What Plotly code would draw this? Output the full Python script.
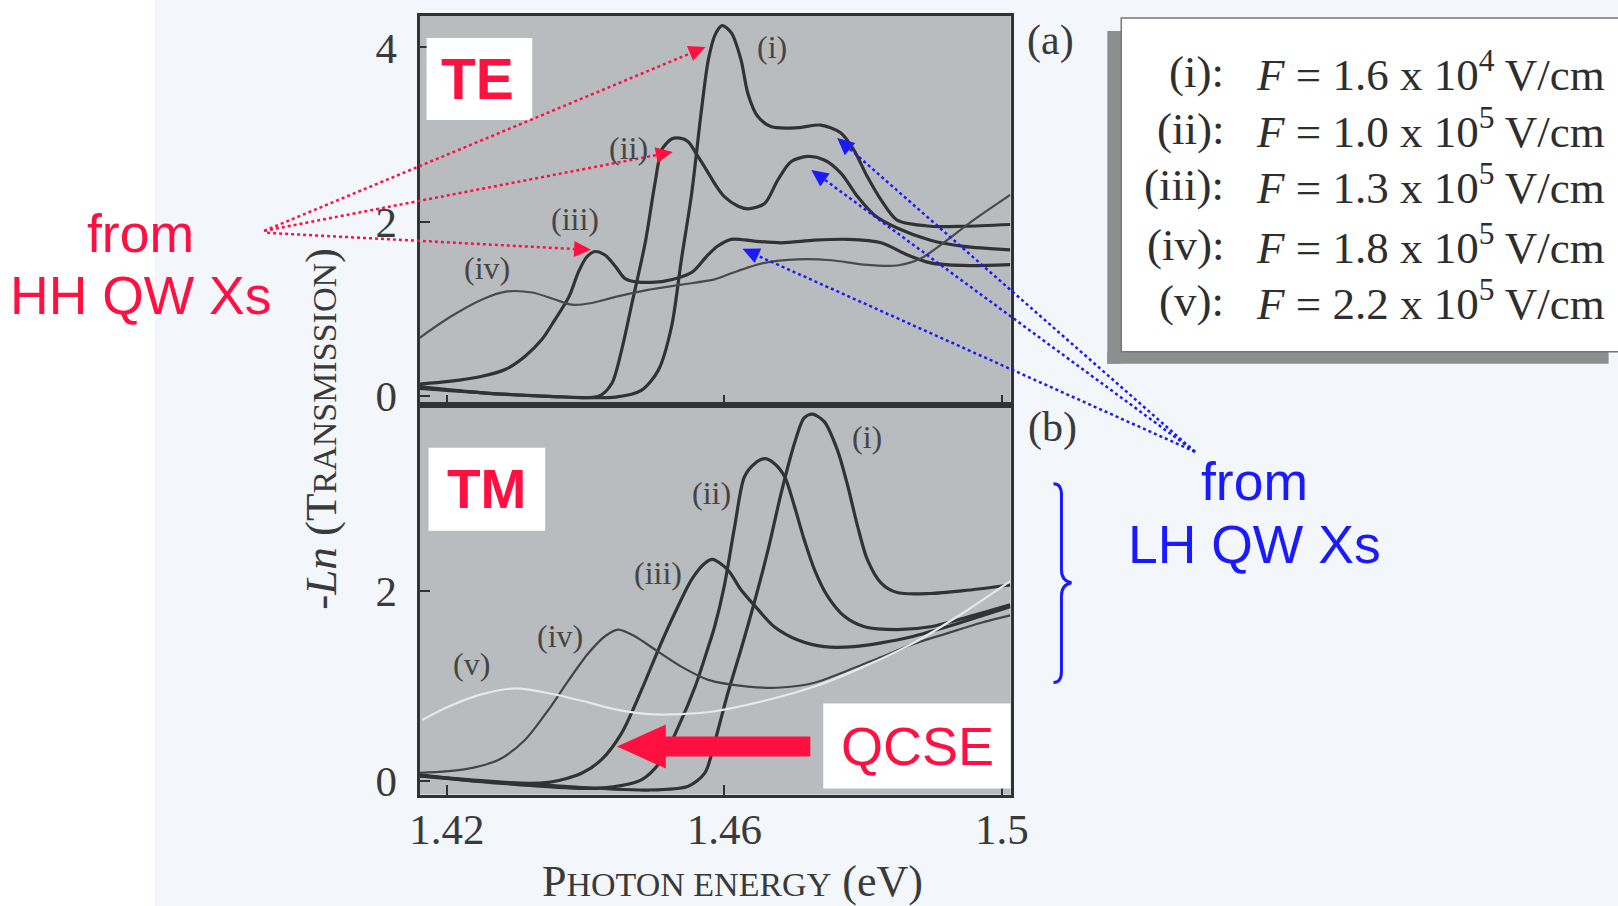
import plotly.graph_objects as go

W, H = 1618, 906
# empirical correction of the page placement observed in the rendered output
OX, SX, SY = 8.0, 0.986, 0.984


def px(x):
    return ((x - OX) / SX) / W


def py(y):
    return 1 - (y / SY) / H


# ---------------- data: TE panel (a) ----------------
te_i_x = [1.4161, 1.4251, 1.4347, 1.4443, 1.4481, 1.4505, 1.4524, 1.4538, 1.4553, 1.4567, 1.4577, 1.4587,
          1.4597, 1.4610, 1.4624, 1.4634, 1.4648, 1.4668, 1.4706, 1.4739, 1.4768, 1.4787, 1.4806, 1.4826,
          1.4849, 1.4897, 1.4945, 1.5012]
te_i_y = [0.11, 0.04, 0.00, -0.01, 0.07, 0.30, 0.80, 1.56, 2.33, 3.28, 3.86, 4.15,
          4.25, 4.17, 3.86, 3.47, 3.21, 3.09, 3.08, 3.11, 3.02, 2.82, 2.52, 2.25,
          2.02, 1.95, 1.95, 1.97]

te_ii_x = [1.4161, 1.4251, 1.4347, 1.4419, 1.4438, 1.4452, 1.4467, 1.4486, 1.4500, 1.4510, 1.4524, 1.4536,
           1.4548, 1.4562, 1.4577, 1.4586, 1.4600, 1.4620, 1.4634, 1.4658, 1.4677, 1.4696, 1.4720, 1.4744,
           1.4768, 1.4792, 1.4816, 1.4849, 1.4897, 1.4945, 1.5012]
te_ii_y = [0.09, 0.04, 0.00, 0.00, 0.15, 0.53, 1.07, 1.76, 2.44, 2.83, 2.95, 2.96,
           2.92, 2.75, 2.56, 2.44, 2.29, 2.18, 2.15, 2.21, 2.48, 2.69, 2.75, 2.71,
           2.56, 2.29, 2.08, 1.93, 1.79, 1.72, 1.68]

te_iii_x = [1.4161, 1.4203, 1.4251, 1.4285, 1.4313, 1.4337, 1.4356, 1.4376, 1.4390, 1.4402, 1.4414, 1.4428,
            1.4443, 1.4457, 1.4476, 1.4514, 1.4553, 1.4574, 1.4590, 1.4610, 1.4643, 1.4682, 1.4730, 1.4778,
            1.4826, 1.4864, 1.4897, 1.4945, 1.5012]
te_iii_y = [0.14, 0.17, 0.23, 0.31, 0.46, 0.65, 0.88, 1.14, 1.43, 1.60, 1.66, 1.62,
            1.49, 1.35, 1.31, 1.32, 1.42, 1.60, 1.72, 1.80, 1.78, 1.76, 1.79, 1.80,
            1.76, 1.62, 1.53, 1.50, 1.51]

te_iv_x = [1.4161, 1.4203, 1.4251, 1.4285, 1.4323, 1.4356, 1.4380, 1.4409, 1.4443, 1.4490, 1.4538, 1.4586,
           1.4610, 1.4658, 1.4706, 1.4754, 1.4801, 1.4849, 1.4883, 1.4921, 1.4959, 1.5012]
te_iv_y = [0.67, 0.90, 1.11, 1.20, 1.19, 1.11, 1.05, 1.07, 1.14, 1.22, 1.28, 1.34,
           1.41, 1.53, 1.57, 1.56, 1.51, 1.50, 1.58, 1.79, 2.02, 2.31]

# ---------------- data: TM panel (b) ----------------
tm_i_x = [1.4161, 1.4347, 1.4490, 1.4548, 1.4572, 1.4586, 1.4605, 1.4624, 1.4643, 1.4663, 1.4682, 1.4701,
          1.4715, 1.4727, 1.4744, 1.4763, 1.4778, 1.4792, 1.4806, 1.4826, 1.4849, 1.4897, 1.4945, 1.5012]
tm_i_y = [0.05, -0.05, -0.10, -0.06, 0.08, 0.40, 0.92, 1.38, 1.87, 2.43, 3.03, 3.55,
          3.82, 3.86, 3.78, 3.48, 3.10, 2.68, 2.33, 2.08, 1.98, 1.97, 2.00, 2.06]

tm_ii_x = [1.4161, 1.4299, 1.4419, 1.4481, 1.4510, 1.4534, 1.4558, 1.4577, 1.4586, 1.4600, 1.4615, 1.4629,
           1.4644, 1.4658, 1.4672, 1.4687, 1.4701, 1.4715, 1.4730, 1.4749, 1.4773, 1.4802, 1.4849, 1.4897,
           1.4945, 1.5012]
tm_ii_y = [0.05, -0.04, -0.08, 0.01, 0.22, 0.57, 0.99, 1.41, 1.62, 2.05, 2.68, 3.20,
           3.34, 3.39, 3.34, 3.20, 2.89, 2.54, 2.22, 1.94, 1.73, 1.62, 1.59, 1.62,
           1.71, 1.85]

tm_iii_x = [1.4161, 1.4251, 1.4347, 1.4395, 1.4423, 1.4452, 1.4481, 1.4505, 1.4529, 1.4553, 1.4572, 1.4583,
            1.4605, 1.4624, 1.4644, 1.4672, 1.4706, 1.4744, 1.4787, 1.4826, 1.4873, 1.4921, 1.4969, 1.5012]
tm_iii_y = [0.06, -0.01, -0.02, 0.08, 0.22, 0.50, 0.96, 1.38, 1.77, 2.12, 2.29, 2.33,
            2.22, 2.01, 1.84, 1.62, 1.48, 1.41, 1.41, 1.45, 1.52, 1.62, 1.73, 1.83]

tm_iv_x = [1.4161, 1.4227, 1.4275, 1.4313, 1.4347, 1.4376, 1.4404, 1.4428, 1.4447, 1.4471, 1.4500, 1.4538,
           1.4577, 1.4634, 1.4682, 1.4730, 1.4778, 1.4826, 1.4873, 1.4921, 1.4969, 1.5012]
tm_iv_y = [0.08, 0.12, 0.22, 0.43, 0.75, 1.06, 1.34, 1.52, 1.59, 1.52, 1.38, 1.20,
           1.06, 0.99, 0.98, 1.03, 1.16, 1.30, 1.44, 1.55, 1.66, 1.74]

tm_v_x = [1.4165, 1.4203, 1.4251, 1.4299, 1.4347, 1.4395, 1.4443, 1.4490, 1.4538, 1.4586, 1.4658, 1.4730,
          1.4801, 1.4873, 1.4945, 1.5012]
tm_v_y = [0.64, 0.78, 0.91, 0.97, 0.92, 0.84, 0.75, 0.70, 0.70, 0.73, 0.84, 0.99,
          1.20, 1.45, 1.77, 2.10]

x_ticks = [1.42, 1.46, 1.5]
x_tick_text = ["1.42", "1.46", "1.5"]
te_y_ticks = [0, 2, 4]
tm_y_ticks = [0, 2]

te_curve_labels = ["(i)", "(ii)", "(iii)", "(iv)"]
te_label_x = [1.4668, 1.4462, 1.4385, 1.4258]
te_label_y = [4.01, 2.85, 2.03, 1.47]
tm_curve_labels = ["(i)", "(ii)", "(iii)", "(iv)", "(v)"]
tm_label_x = [1.4806, 1.4581, 1.4504, 1.4363, 1.4236]
tm_label_y = [3.62, 3.03, 2.19, 1.52, 1.23]

legend_ids = ["(i):", "(ii):", "(iii):", "(iv):", "(v):"]
legend_mant = ["1.6", "1.0", "1.3", "1.8", "2.2"]
legend_exp = ["4", "5", "5", "5", "5"]

# ---------------- figure ----------------
DARK = "#323232"
SERIF = "Liberation Serif"
SANS = "Liberation Sans"
RED = "#ff1040"
BLUE = "#1a1aff"

fig = go.Figure()

te_series = [(te_i_x, te_i_y, 3.2, DARK), (te_ii_x, te_ii_y, 3.2, DARK),
             (te_iii_x, te_iii_y, 3.2, DARK), (te_iv_x, te_iv_y, 2.2, "#4a4a4a")]
for xs, ys, w, c in te_series:
    fig.add_trace(go.Scatter(x=xs, y=ys, mode="lines", xaxis="x", yaxis="y",
                             line=dict(color=c, width=w, shape="spline", smoothing=0.8),
                             hoverinfo="skip", showlegend=False))

tm_series = [(tm_i_x, tm_i_y, 3.2, DARK), (tm_ii_x, tm_ii_y, 3.2, DARK),
             (tm_iii_x, tm_iii_y, 3.2, DARK), (tm_iv_x, tm_iv_y, 2.2, "#444444"),
             (tm_v_x, tm_v_y, 2.2, "#e6e8ea")]
for xs, ys, w, c in tm_series:
    fig.add_trace(go.Scatter(x=xs, y=ys, mode="lines", xaxis="x2", yaxis="y2",
                             line=dict(color=c, width=w, shape="spline", smoothing=0.8),
                             hoverinfo="skip", showlegend=False))

xr = [1.41609, 1.50126]
xdom = [px(419), px(1012)]
axis_common = dict(showline=True, mirror=True, linecolor=DARK, linewidth=3, showgrid=False,
                   zeroline=False, ticks="inside", ticklen=10, tickwidth=2, tickcolor=DARK,
                   tickfont=dict(family=SERIF, size=43, color="#3a3a3a"))

fig.update_layout(
    width=W, height=H, margin=dict(l=0, r=0, t=0, b=0),
    paper_bgcolor="#f3f6fa", plot_bgcolor="#b9bcbf",
    xaxis=dict(domain=xdom, range=xr, anchor="y", tickvals=x_ticks, showticklabels=False, **axis_common),
    yaxis=dict(domain=[py(405), py(16)], range=[-0.0974, 4.361], anchor="x", tickvals=te_y_ticks,
               ticklabelstandoff=11, **axis_common),
    xaxis2=dict(domain=xdom, range=xr, anchor="y2", tickvals=x_ticks, ticktext=x_tick_text,
                ticklabelstandoff=-5, **axis_common),
    yaxis2=dict(domain=[py(795), py(405)], range=[-0.1474, 3.958], anchor="x2", tickvals=tm_y_ticks,
                ticklabelstandoff=11, **axis_common),
)

shapes = []
# white strip on the left
shapes.append(dict(type="rect", xref="paper", yref="paper", x0=-0.05, x1=px(153), y0=-0.05, y1=1.05,
                   fillcolor="white", line=dict(width=0), layer="below"))
# legend box with shadow
shapes.append(dict(type="rect", xref="paper", yref="paper", x0=px(1109), x1=px(1123), y0=py(364), y1=py(31),
                   fillcolor="#8e8e8e", line=dict(width=0)))
shapes.append(dict(type="rect", xref="paper", yref="paper", x0=px(1109), x1=px(1612), y0=py(364), y1=py(352),
                   fillcolor="#8e8e8e", line=dict(width=0)))
shapes.append(dict(type="rect", xref="paper", yref="paper", x0=px(1123), x1=px(1640), y0=py(352), y1=py(18),
                   fillcolor="white", line=dict(width=1.5, color="#777777")))
# white label boxes
for x0, x1, y0, y1 in [(426, 532, 38, 120), (428, 545, 448, 531), (824, 1012, 704, 789)]:
    shapes.append(dict(type="rect", xref="paper", yref="paper", x0=px(x0), x1=px(x1), y0=py(y1), y1=py(y0),
                       fillcolor="white", line=dict(width=0)))
# QCSE arrow
shapes.append(dict(type="rect", xref="paper", yref="paper", x0=px(663), x1=px(811), y0=py(757), y1=py(737),
                   fillcolor=RED, line=dict(width=0)))
shapes.append(dict(type="path", xref="paper", yref="paper",
                   path=f"M {px(617)} {py(747)} L {px(666)} {py(725)} L {px(666)} {py(769)} Z",
                   fillcolor=RED, line=dict(width=0)))


def dotted_arrow(x0, y0, x1, y1, color, head_len=17, half_w=8):
    dx, dy = x1 - x0, y1 - y0
    L = (dx * dx + dy * dy) ** 0.5
    ux, uy = dx / L, dy / L
    bx, by = x1 - ux * head_len, y1 - uy * head_len
    nx, ny = -uy, ux
    shapes.append(dict(type="line", xref="paper", yref="paper", x0=px(x0), y0=py(y0), x1=px(bx), y1=py(by),
                       line=dict(color=color, width=2.5, dash="dot")))
    path = (f"M {px(x1)} {py(y1)} L {px(bx + nx * half_w)} {py(by + ny * half_w)} "
            f"L {px(bx - nx * half_w)} {py(by - ny * half_w)} Z")
    shapes.append(dict(type="path", xref="paper", yref="paper", path=path, fillcolor=color, line=dict(width=0)))


dotted_arrow(263, 231, 706, 47, RED)
dotted_arrow(263, 231, 673, 152, RED)
dotted_arrow(266, 233, 591, 250, RED)
dotted_arrow(1197, 452, 838, 138, BLUE)
dotted_arrow(1197, 452, 812, 170, BLUE)
dotted_arrow(1197, 452, 743, 249, BLUE)

# blue curly brace
pts = [(1055, 484), (1063, 484), (1063, 495), (1063, 570), (1063, 581), (1073, 583), (1063, 585), (1063, 596),
       (1063, 672), (1063, 683), (1055, 683)]
P = [(px(a), py(b)) for a, b in pts]
brace = (f"M {P[0][0]} {P[0][1]} Q {P[1][0]} {P[1][1]} {P[2][0]} {P[2][1]} L {P[3][0]} {P[3][1]} "
         f"Q {P[4][0]} {P[4][1]} {P[5][0]} {P[5][1]} Q {P[6][0]} {P[6][1]} {P[7][0]} {P[7][1]} "
         f"L {P[8][0]} {P[8][1]} Q {P[9][0]} {P[9][1]} {P[10][0]} {P[10][1]}")
shapes.append(dict(type="path", xref="paper", yref="paper", path=brace, line=dict(color=BLUE, width=3)))

fig.update_layout(shapes=shapes)

ann = []


def note(text, x, y, size, color, family, xanchor="center", textangle=0):
    ann.append(dict(text=text, x=px(x), y=py(y), xref="paper", yref="paper", showarrow=False,
                    xanchor=xanchor, yanchor="middle", textangle=textangle,
                    font=dict(family=family, size=size, color=color)))


# curve labels
for t, x, y in zip(te_curve_labels, te_label_x, te_label_y):
    ann.append(dict(text=t, x=x, y=y, xref="x", yref="y", showarrow=False, xanchor="center", yanchor="middle",
                    font=dict(family=SERIF, size=32, color="#454545")))
for t, x, y in zip(tm_curve_labels, tm_label_x, tm_label_y):
    ann.append(dict(text=t, x=x, y=y, xref="x2", yref="y2", showarrow=False, xanchor="center", yanchor="middle",
                    font=dict(family=SERIF, size=32, color="#454545")))
# panel labels
note("(a)", 1052, 41, 42, "#3a3a3a", SERIF)
note("(b)", 1054, 428, 42, "#3a3a3a", SERIF)
# axis titles
note("-<i>Ln</i> (T<span style='font-size:34px'>RANSMISSION</span>)", 320, 429, 45, "#3a3a3a", SERIF,
     textangle=-90)
note("P<span style='font-size:34px'>HOTON ENERGY</span> (eV)", 733, 882, 44, "#3a3a3a", SERIF)
# legend entries
leg_y = [72, 129, 185, 245, 301]
for lid, m, e, yy in zip(legend_ids, legend_mant, legend_exp, leg_y):
    note(lid, 1228, yy, 45, "#2e2e2e", SERIF, xanchor="right")
    note(f"<i>F</i> = {m} x 10<sup>{e}</sup> V/cm", 1256, yy, 45, "#2e2e2e", SERIF, xanchor="left")
# red / blue annotation texts
note("<b>TE</b>", 477, 79, 57, RED, SANS)
note("<b>TM</b>", 486, 489, 55, RED, SANS)
note("QCSE", 919, 746, 54, RED, SANS)
note("from", 139, 234, 53.5, RED, SANS)
note("HH QW Xs", 139, 296, 53.5, RED, SANS)
note("from", 1257, 482, 53.5, BLUE, SANS)
note("LH QW Xs", 1257, 545, 53.5, BLUE, SANS)
fig.update_layout(annotations=ann)

fig.write_html("out.html")
